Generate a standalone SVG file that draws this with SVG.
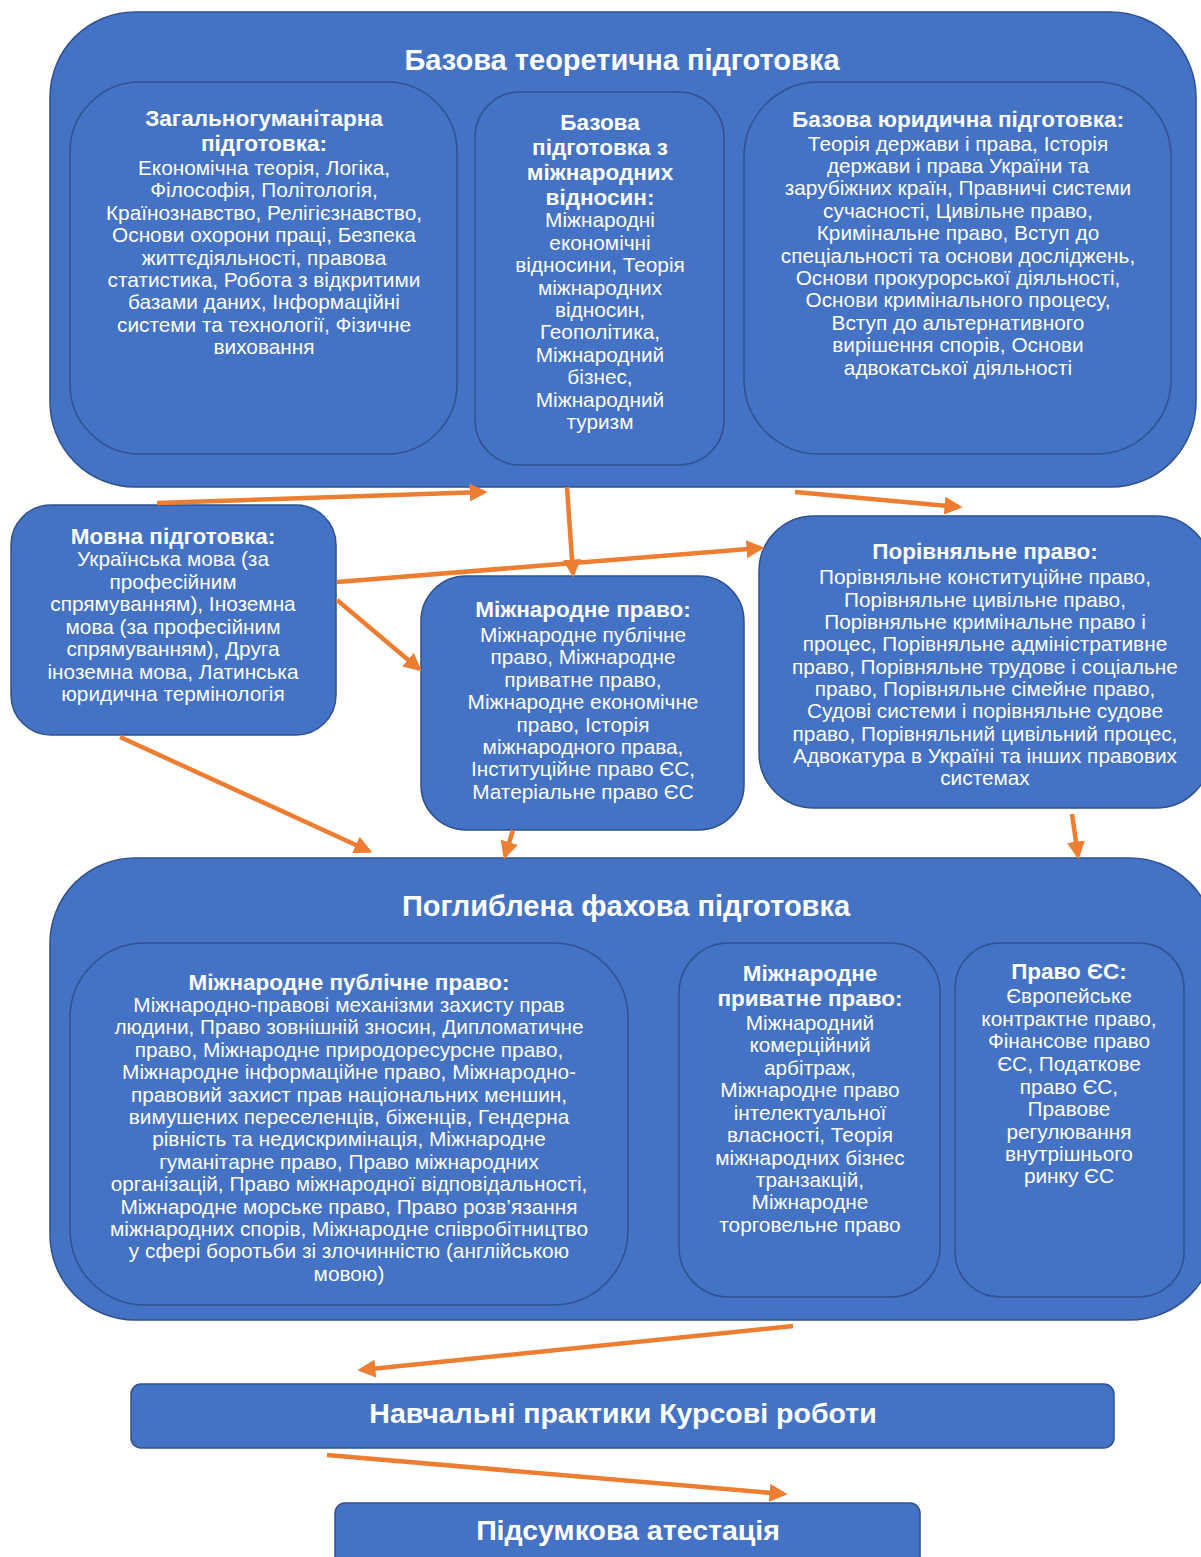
<svg xmlns="http://www.w3.org/2000/svg" width="1201" height="1557" viewBox="0 0 1201 1557">
<defs>
<marker id="ah" markerWidth="4" markerHeight="4" refX="3.2" refY="2" orient="auto" markerUnits="strokeWidth">
<path d="M0,0 L4,2 L0,4 z" fill="#ED7D31"/>
</marker>
<style>
.box{fill:#4472C4;stroke:#2F528F;stroke-width:1.5}
.inner{fill:#4472C4;stroke:#2F528F;stroke-width:1.5}
text{font-family:"Liberation Sans",Arial,sans-serif;fill:#fff;text-anchor:middle}
.h1{font-size:29px;font-weight:bold}
.h3{font-size:28.5px;font-weight:bold}
.h2{font-size:22.5px;font-weight:bold}
.b{font-size:20.8px}
.conn line{stroke:#ED7D31;stroke-width:4.5;marker-end:url(#ah)}
</style>
</defs>
<rect width="1201" height="1557" fill="#fff"/>

<g id="basic">
<rect class="box" x="50" y="12" width="1146" height="475" rx="85"/>
<text class="h1" x="622" y="70">Базова теоретична підготовка</text>
</g>
<g id="general">
<rect class="inner" x="70" y="82" width="387" height="372" rx="70"/>
<text class="h2" x="264" y="126">Загальногуманітарна</text>
<text class="h2" x="264" y="151">підготовка:</text>
<text class="b" x="264" y="175">Економічна теорія, Логіка,</text>
<text class="b" x="264" y="197">Філософія, Політологія,</text>
<text class="b" x="264" y="220">Країнознавство, Релігієзнавство,</text>
<text class="b" x="264" y="242">Основи охорони праці, Безпека</text>
<text class="b" x="264" y="265">життєдіяльності, правова</text>
<text class="b" x="264" y="287">статистика, Робота з відкритими</text>
<text class="b" x="264" y="309">базами даних, Інформаційні</text>
<text class="b" x="264" y="332">системи та технології, Фізичне</text>
<text class="b" x="264" y="354">виховання</text>
</g>
<g id="intlrel">
<rect class="inner" x="475" y="92" width="249" height="373" rx="45"/>
<text class="h2" x="600" y="130">Базова</text>
<text class="h2" x="600" y="155">підготовка з</text>
<text class="h2" x="600" y="180">міжнародних</text>
<text class="h2" x="600" y="205">відносин:</text>
<text class="b" x="600" y="227">Міжнародні</text>
<text class="b" x="600" y="250">економічні</text>
<text class="b" x="600" y="272">відносини, Теорія</text>
<text class="b" x="600" y="295">міжнародних</text>
<text class="b" x="600" y="317">відносин,</text>
<text class="b" x="600" y="339">Геополітика,</text>
<text class="b" x="600" y="362">Міжнародний</text>
<text class="b" x="600" y="384">бізнес,</text>
<text class="b" x="600" y="407">Міжнародний</text>
<text class="b" x="600" y="429">туризм</text>
</g>
<g id="legal">
<rect class="inner" x="744" y="82" width="427" height="372" rx="75"/>
<text class="h2" x="958" y="127">Базова юридична підготовка:</text>
<text class="b" x="958" y="151">Теорія держави і права, Історія</text>
<text class="b" x="958" y="173">держави і права України та</text>
<text class="b" x="958" y="195">зарубіжних країн, Правничі системи</text>
<text class="b" x="958" y="218">сучасності, Цивільне право,</text>
<text class="b" x="958" y="240">Кримінальне право, Вступ до</text>
<text class="b" x="958" y="263">спеціальності та основи досліджень,</text>
<text class="b" x="958" y="285">Основи прокурорської діяльності,</text>
<text class="b" x="958" y="307">Основи кримінального процесу,</text>
<text class="b" x="958" y="330">Вступ до альтернативного</text>
<text class="b" x="958" y="352">вирішення спорів, Основи</text>
<text class="b" x="958" y="375">адвокатської діяльності</text>
</g>

<g id="lang">
<rect class="box" x="11" y="505" width="325" height="230" rx="40"/>
<text class="h2" x="173" y="544">Мовна підготовка:</text>
<text class="b" x="173" y="566">Українська мова (за</text>
<text class="b" x="173" y="589">професійним</text>
<text class="b" x="173" y="611">спрямуванням), Іноземна</text>
<text class="b" x="173" y="634">мова (за професійним</text>
<text class="b" x="173" y="656">спрямуванням), Друга</text>
<text class="b" x="173" y="679">іноземна мова, Латинська</text>
<text class="b" x="173" y="701">юридична термінологія</text>
</g>

<g id="intllaw">
<rect class="box" x="421" y="576" width="323" height="254" rx="45"/>
<text class="h2" x="583" y="617">Міжнародне право:</text>
<text class="b" x="583" y="642">Міжнародне публічне</text>
<text class="b" x="583" y="664">право, Міжнародне</text>
<text class="b" x="583" y="687">приватне право,</text>
<text class="b" x="583" y="709">Міжнародне економічне</text>
<text class="b" x="583" y="732">право, Історія</text>
<text class="b" x="583" y="754">міжнародного права,</text>
<text class="b" x="583" y="776">Інституційне право ЄС,</text>
<text class="b" x="583" y="799">Матеріальне право ЄС</text>
</g>

<g id="comparative">
<rect class="box" x="759" y="516" width="452" height="292" rx="55"/>
<text class="h2" x="985" y="559">Порівняльне право:</text>
<text class="b" x="985" y="584">Порівняльне конституційне право,</text>
<text class="b" x="985" y="607">Порівняльне цивільне право,</text>
<text class="b" x="985" y="629">Порівняльне кримінальне право і</text>
<text class="b" x="985" y="651">процес, Порівняльне адміністративне</text>
<text class="b" x="985" y="674">право, Порівняльне трудове і соціальне</text>
<text class="b" x="985" y="696">право, Порівняльне сімейне право,</text>
<text class="b" x="985" y="718">Судові системи і порівняльне судове</text>
<text class="b" x="985" y="741">право, Порівняльний цивільний процес,</text>
<text class="b" x="985" y="763">Адвокатура в Україні та інших правових</text>
<text class="b" x="985" y="785">системах</text>
</g>

<g id="advanced">
<rect class="box" x="50" y="858" width="1165" height="462" rx="85"/>
<text class="h1" x="626" y="916">Поглиблена фахова підготовка</text>
</g>
<g id="public">
<rect class="inner" x="70" y="943" width="558" height="362" rx="75"/>
<text class="h2" x="349" y="990">Міжнародне публічне право:</text>
<text class="b" x="349" y="1012">Міжнародно-правові механізми захисту прав</text>
<text class="b" x="349" y="1034">людини, Право зовнішній зносин, Дипломатичне</text>
<text class="b" x="349" y="1057">право, Міжнародне природоресурсне право,</text>
<text class="b" x="349" y="1079">Міжнародне інформаційне право, Міжнародно-</text>
<text class="b" x="349" y="1102">правовий захист прав національних меншин,</text>
<text class="b" x="349" y="1124">вимушених переселенців, біженців, Гендерна</text>
<text class="b" x="349" y="1146">рівність та недискримінація, Міжнародне</text>
<text class="b" x="349" y="1169">гуманітарне право, Право міжнародних</text>
<text class="b" x="349" y="1191">організацій, Право міжнародної відповідальності,</text>
<text class="b" x="349" y="1214">Міжнародне морське право, Право розв’язання</text>
<text class="b" x="349" y="1236">міжнародних спорів, Міжнародне співробітництво</text>
<text class="b" x="349" y="1258">у сфері боротьби зі злочинністю (англійською</text>
<text class="b" x="349" y="1281">мовою)</text>
</g>
<g id="private">
<rect class="inner" x="679" y="943" width="261" height="354" rx="50"/>
<text class="h2" x="810" y="981">Міжнародне</text>
<text class="h2" x="810" y="1006">приватне право:</text>
<text class="b" x="810" y="1030">Міжнародний</text>
<text class="b" x="810" y="1052">комерційний</text>
<text class="b" x="810" y="1075">арбітраж,</text>
<text class="b" x="810" y="1097">Міжнародне право</text>
<text class="b" x="810" y="1120">інтелектуальної</text>
<text class="b" x="810" y="1142">власності, Теорія</text>
<text class="b" x="810" y="1165">міжнародних бізнес</text>
<text class="b" x="810" y="1187">транзакцій,</text>
<text class="b" x="810" y="1209">Міжнародне</text>
<text class="b" x="810" y="1232">торговельне право</text>
</g>
<g id="eu">
<rect class="inner" x="955" y="943" width="229" height="354" rx="45"/>
<text class="h2" x="1069" y="979">Право ЄС:</text>
<text class="b" x="1069" y="1003">Європейське</text>
<text class="b" x="1069" y="1026">контрактне право,</text>
<text class="b" x="1069" y="1048">Фінансове право</text>
<text class="b" x="1069" y="1071">ЄС, Податкове</text>
<text class="b" x="1069" y="1094">право ЄС,</text>
<text class="b" x="1069" y="1116">Правове</text>
<text class="b" x="1069" y="1139">регулювання</text>
<text class="b" x="1069" y="1161">внутрішнього</text>
<text class="b" x="1069" y="1183">ринку ЄС</text>
</g>

<g id="practice">
<rect class="box" x="131" y="1384" width="983" height="64" rx="10"/>
<text class="h3" x="623" y="1423">Навчальні практики Курсові роботи</text>
</g>
<g id="final">
<rect class="box" x="335" y="1503" width="585" height="70" rx="10"/>
<text class="h3" x="628" y="1540">Підсумкова атестація</text>
</g>

<g class="conn" id="connectors">
<line x1="157" y1="503" x2="484" y2="492"/>
<line x1="567" y1="487" x2="573" y2="574"/>
<line x1="337" y1="582" x2="761" y2="548"/>
<line x1="337" y1="600" x2="419" y2="669"/>
<line x1="120" y1="737" x2="369" y2="851"/>
<line x1="513" y1="830" x2="505" y2="856"/>
<line x1="795" y1="492" x2="959" y2="507"/>
<line x1="1072" y1="814" x2="1078" y2="856"/>
<line x1="793" y1="1326" x2="361" y2="1370"/>
<line x1="327" y1="1455" x2="784" y2="1494"/>
</g>
</svg>
